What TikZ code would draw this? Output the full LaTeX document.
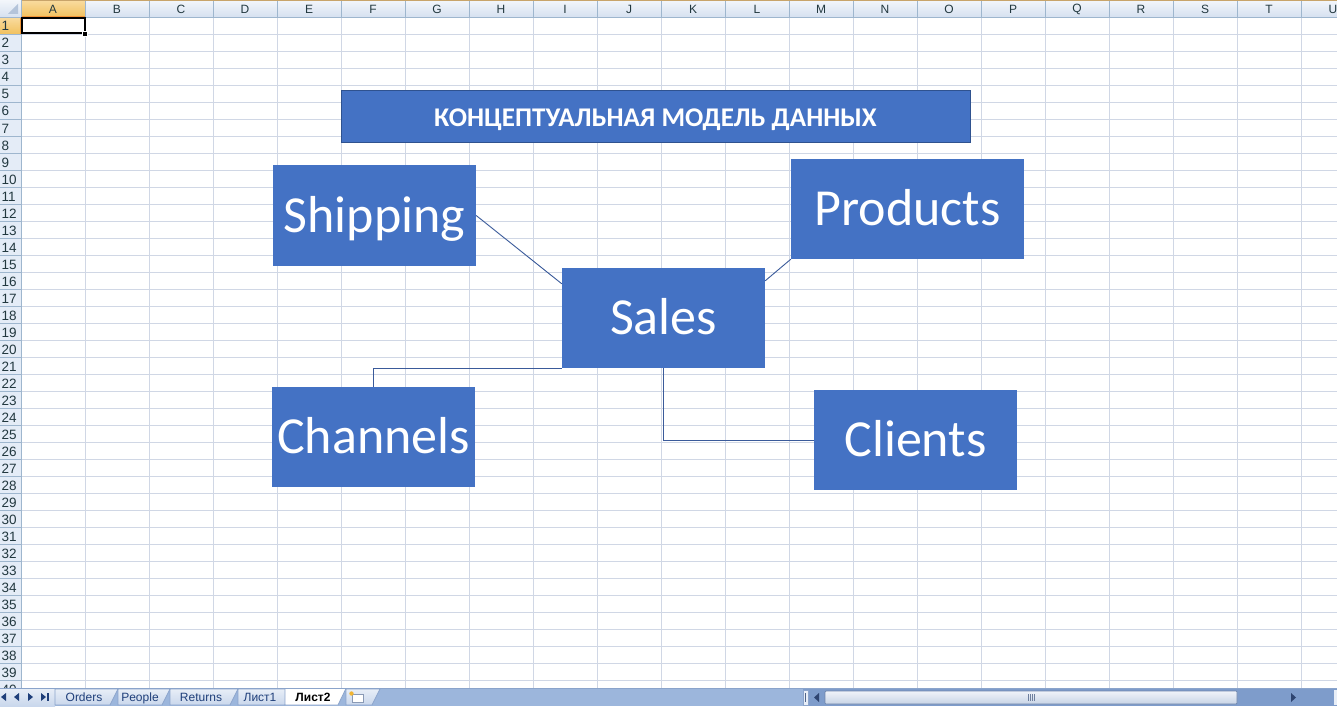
\documentclass[tikz,border=0pt]{standalone}
\usepackage{fontspec}
\setmainfont{Carlito}
\newfontfamily\hdrfont{Liberation Sans}
\usetikzlibrary{calc}
\definecolor{boxblue}{HTML}{4472C4}
\definecolor{boxedge}{HTML}{2F528F}
\definecolor{connc}{HTML}{3A5A9A}
\definecolor{gridc}{HTML}{D0D7E5}
\definecolor{hdrsep}{HTML}{9EB6CE}
\definecolor{hdrtop}{HTML}{F3F6FB}
\definecolor{hdrbot}{HTML}{D6E1F0}
\definecolor{hdrrow}{HTML}{E4ECF7}
\definecolor{seltop}{HTML}{F9DCA0}
\definecolor{selbot}{HTML}{F1C15F}
\definecolor{seledge}{HTML}{F29536}
\definecolor{hdrtext}{HTML}{22383F}
\definecolor{topline}{HTML}{C8A46A}
\definecolor{cornertri}{HTML}{B4C4DA}
\definecolor{tabbg}{HTML}{9CB6DC}
\definecolor{tabtop}{HTML}{E8EEF7}
\definecolor{tabbot}{HTML}{C9D7EC}
\definecolor{tabedge}{HTML}{8BA4CB}
\definecolor{tabtext}{HTML}{1F3F7A}
\definecolor{iconedge}{HTML}{8A9AB5}
\definecolor{iconstar}{HTML}{F2B531}
\definecolor{scrolltrack}{HTML}{7E9CCB}
\definecolor{scrollbtn}{HTML}{E8EEF7}
\definecolor{scrollmark}{HTML}{50658A}
\definecolor{scrollarrow}{HTML}{2E4470}
\definecolor{gripc}{HTML}{6E7F9E}
\definecolor{thumbtop}{HTML}{F0F3F9}
\definecolor{thumbbot}{HTML}{C8D4E6}
\definecolor{thumbedge}{HTML}{6E84AA}
\tikzset{
  entity/.style={rectangle, fill=boxblue, inner sep=0pt, text=white,
    font=\fontsize{52}{52}\selectfont, text height=33pt, text depth=0pt,
    minimum height=100pt},
  titlebox/.style={rectangle, fill=boxblue, draw=boxedge, line width=0.8pt,
    inner sep=0pt, text=white, font=\bfseries\fontsize{27}{27}\selectfont,
    text height=22pt, text depth=0pt, minimum width=629pt, minimum height=52pt},
  conn/.style={draw=connc, line width=0.9pt},
  gridline/.style={draw=gridc, line width=0.8pt},
  collbl/.style={font=\hdrfont\fontsize{12}{12}\selectfont, text=hdrtext, inner sep=0pt},
  rowlbl/.style={font=\hdrfont\fontsize{13.5}{13.5}\selectfont, text=hdrtext, inner sep=0pt},
  tablbl/.style={font=\hdrfont\fontsize{12}{12}\selectfont, text=tabtext, inner sep=0pt, anchor=base},
}
\begin{document}
\begin{tikzpicture}[x=1pt,y=-1pt]
\useasboundingbox (0,0) rectangle (1337,706);
\fill[white] (0,0) rectangle (1337,706);

% grid
\foreach \k in {0,...,20} \draw[gridline] ({21+64*\k},17) -- ({21+64*\k},688);
\foreach \k in {1,...,40} \draw[gridline] (21,{17+17*\k}) -- (1337,{17+17*\k});

% column header
\shade[top color=hdrtop, bottom color=hdrbot] (21,0) rectangle (1337,17);
\shade[top color=seltop, bottom color=selbot] (21,0) rectangle (85,17);
\draw[seledge, line width=1pt] (21,16.5) -- (85,16.5);
\foreach \k in {0,...,20} \draw[hdrsep, line width=0.8pt] ({21+64*\k},0) -- ({21+64*\k},17);
\draw[hdrsep, line width=0.8pt] (0,17) -- (1337,17);
\draw[topline, line width=0.8pt] (0,0.4) -- (1337,0.4);
\foreach \L [count=\i from 0] in {A,...,U}
  \node[collbl] (col\L) at ({21+64*\i+32},9.5) {\L};

% row header
\fill[hdrrow] (0,17) rectangle (21,688);
\shade[top color=seltop, bottom color=selbot] (0,17) rectangle (21,34);
\draw[seledge, line width=1pt] (20.5,17) -- (20.5,34);
\foreach \k in {1,...,40} \draw[hdrsep, line width=0.8pt] (0,{17+17*\k}) -- (21,{17+17*\k});
\draw[hdrsep, line width=0.8pt] (21,17) -- (21,688);
\foreach \k in {1,...,40}
  \node[rowlbl, anchor=base west] (row\k) at (1.5,{17+17*\k-3}) {\k};

% corner
\shade[top color=hdrtop, bottom color=hdrbot] (0,0) rectangle (21,17);
\fill[cornertri] (18,4) -- (18,14) -- (8,14) -- cycle;
\draw[hdrsep, line width=0.8pt] (21,0) -- (21,17) (0,17) -- (21,17);

% active cell A1
\draw[black, line width=2pt] (22,18) rectangle (84.5,33.5);
\fill[white] (82,31) rectangle (88,37);
\fill[black] (83,32) rectangle (87,36);

% diagram
\node[titlebox] (title) at (655.5,116) {КОНЦЕПТУАЛЬНАЯ МОДЕЛЬ ДАННЫХ};
\node[entity, minimum width=203pt, minimum height=101pt] (ship) at (374.5,215.5) {Shipping};
\node[entity, minimum width=233pt] (prod) at (907.5,209) {Products};
\node[entity, minimum width=203pt] (sales) at (663.5,318) {Sales};
\node[entity, minimum width=203pt] (chan) at (373.5,437) {Channels};
\node[entity, minimum width=203pt] (cli) at (915.5,440) {Clients};

\draw[conn] (ship.east) -- ([yshift=-16pt]sales.north west);
\draw[conn] (prod.south west) -- ([yshift=-13pt]sales.north east);
\draw[conn] (sales.south west) -| (chan.north);
\draw[conn] (sales.south) |- (cli.west);

% bottom bar
\fill[tabbg] (0,688) rectangle (1337,706);
\shade[top color=tabtop, bottom color=tabbot] (0,688) rectangle (55,706);
\draw[tabedge, line width=0.8pt] (0,688.4) -- (1337,688.4);
% nav arrows
\fill[tabtext] (1,697) -- (6,693) -- (6,701) -- cycle;
\fill[tabtext] (14,697) -- (19,693) -- (19,701) -- cycle;
\fill[tabtext] (33,697) -- (28,693) -- (28,701) -- cycle;
\fill[tabtext] (46,697) -- (41,693) -- (41,701) -- cycle;
\fill[tabtext] (47,693) rectangle (48.5,701);
% tabs (drawn right to left so left ones overlap)
\foreach \xl/\xr in {346/372, 238/285, 170/230, 118/162, 55/110}
  \shade[top color=tabtop, bottom color=tabbot, draw=tabedge, line width=0.8pt]
    (\xl,689) -- (\xr+8,689) -- (\xr,705) -- (\xl,705) -- cycle;
\fill[white, draw=tabedge, line width=0.8pt] (285,688.5) -- (346,688.5) -- (338,705) -- (285,705) -- cycle;
\node[tablbl] (tOrders) at (84,701.5) {Orders};
\node[tablbl] (tPeople) at (140,701.5) {People};
\node[tablbl] (tReturns) at (201,701.5) {Returns};
\node[tablbl] (tL1) at (260,701.5) {Лист1};
\node[tablbl, text=black, font=\hdrfont\bfseries\fontsize{12}{12}\selectfont] (tL2) at (313,701.5) {Лист2};
% new sheet icon
\draw[iconedge, fill=white, line width=0.6pt] (352,694) rectangle (363,702);
\fill[iconstar] (351.5,693.5) circle (2.2pt);

% horizontal scrollbar
\fill[scrolltrack] (803,689) rectangle (1337,706);
\fill[scrollbtn, draw=tabedge, line width=0.6pt] (803,690) rectangle (808,705);
\draw[scrollmark, line width=0.6pt] (805.5,693) -- (805.5,702);
\fill[scrollarrow] (814,697.5) -- (819,693) -- (819,702) -- cycle;
\shade[top color=thumbtop, bottom color=thumbbot, draw=thumbedge, line width=0.7pt, rounded corners=1pt] (825,691) rectangle (1237,704);
\foreach \gx in {1028,1030,1032,1034} \draw[gripc, line width=0.6pt] (\gx,694) -- (\gx,701);
\fill[scrollarrow] (1296,697.5) -- (1291,693) -- (1291,702) -- cycle;
\fill[scrollbtn] (1334,690) rectangle (1337,705);
\end{tikzpicture}
\end{document}
